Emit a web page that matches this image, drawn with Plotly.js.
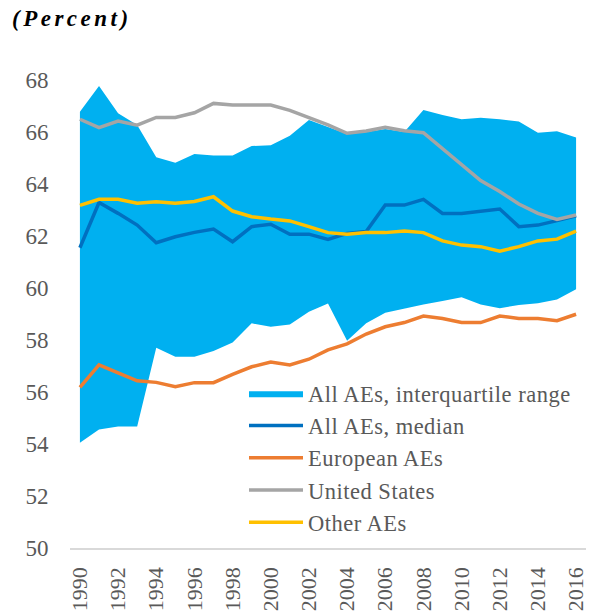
<!DOCTYPE html>
<html>
<head>
<meta charset="utf-8">
<script src="https://cdn.plot.ly/plotly-3.0.1.min.js"></script>
<style>html,body{margin:0;padding:0;background:#fff;}#chart{width:597px;height:612px;} .gtitle{letter-spacing:3.5px;} .legendtext{letter-spacing:0.5px;}</style>
</head>
<body>
<div id="chart"></div>
<script>
const years = [1990,1991,1992,1993,1994,1995,1996,1997,1998,1999,2000,2001,2002,2003,2004,2005,2006,2007,2008,2009,2010,2011,2012,2013,2014,2015,2016];
const iqrLow  = [54.05,54.56,54.67,54.67,57.70,57.36,57.36,57.58,57.90,58.64,58.51,58.60,59.09,59.40,57.97,58.64,59.05,59.22,59.37,59.50,59.64,59.37,59.22,59.35,59.41,59.56,59.95];
const iqrHigh = [66.78,67.77,66.72,66.27,65.03,64.82,65.15,65.10,65.10,65.46,65.49,65.86,66.46,66.20,65.92,66.00,66.12,66.00,66.85,66.65,66.49,66.55,66.49,66.40,65.97,66.03,65.79];
const median  = [61.55,63.29,62.87,62.42,61.74,61.97,62.14,62.27,61.78,62.36,62.45,62.07,62.07,61.87,62.10,62.17,63.19,63.19,63.41,62.87,62.87,62.96,63.04,62.36,62.42,62.59,62.78];
const european= [56.18,57.04,56.74,56.43,56.37,56.20,56.36,56.36,56.68,56.97,57.15,57.04,57.26,57.62,57.85,58.23,58.51,58.67,58.92,58.83,58.67,58.67,58.92,58.83,58.83,58.74,58.99];
const unitedStates = [66.49,66.17,66.42,66.26,66.56,66.56,66.74,67.10,67.04,67.04,67.04,66.83,66.56,66.27,65.95,66.04,66.18,66.05,65.97,65.35,64.73,64.13,63.71,63.23,62.87,62.64,62.81];
const otherAEs = [63.18,63.41,63.41,63.26,63.32,63.26,63.33,63.51,62.96,62.74,62.65,62.58,62.36,62.13,62.07,62.13,62.13,62.19,62.13,61.81,61.65,61.59,61.42,61.59,61.81,61.88,62.19];
const xTicks = [1990,1992,1994,1996,1998,2000,2002,2004,2006,2008,2010,2012,2014,2016];
const yTicks = [50,52,54,56,58,60,62,64,66,68];

const serif = 'Liberation Serif, Times New Roman, serif';
const LW = 3.5;
const traces = [
  {x: years, y: iqrLow, type:'scatter', mode:'lines', line:{width:0, color:'#00B0F0'}, showlegend:false, hoverinfo:'skip'},
  {x: years, y: iqrHigh, type:'scatter', mode:'lines', fill:'tonexty', fillcolor:'#00B0F0', line:{width:0, color:'#00B0F0'}, name:'All AEs, interquartile range'},
  {x: years, y: median, type:'scatter', mode:'lines', line:{width:LW, color:'#0070C0'}, name:'All AEs, median'},
  {x: years, y: european, type:'scatter', mode:'lines', line:{width:LW, color:'#ED7D31'}, name:'European AEs'},
  {x: years, y: unitedStates, type:'scatter', mode:'lines', line:{width:LW, color:'#A5A5A5'}, name:'United States'},
  {x: years, y: otherAEs, type:'scatter', mode:'lines', line:{width:LW, color:'#FFC000'}, name:'Other AEs'}
];

const layout = {
  width: 597, height: 612,
  margin: {l:70, r:11, t:80, b:64, pad:0},
  paper_bgcolor:'#fff', plot_bgcolor:'#fff',
  font: {family: serif, color:'#595959', size:22},
  title: {text:'<b><i>(Percent)</i></b>', font:{family:serif, size:23, color:'#000'}, x:12/597, xanchor:'left', y:1-18/612, yanchor:'middle', xref:'container', yref:'container'},
  xaxis: {
    range:[1989.48, 2016.52], tickmode:'array', tickvals:xTicks, ticktext:xTicks.map(String),
    tickangle:-90, showgrid:false, zeroline:false, showline:true, linecolor:'#D9D9D9', linewidth:1.5,
    ticks:'outside', ticklen:9, tickcolor:'rgba(0,0,0,0)', tickfont:{family:serif, size:22, color:'#595959'}
  },
  yaxis: {
    range:[50,68], tickmode:'array', tickvals:yTicks, ticktext:yTicks.map(String),
    showgrid:false, zeroline:false, showline:false,
    ticks:'outside', ticklen:16, tickcolor:'rgba(0,0,0,0)', tickfont:{family:serif, size:23, color:'#595959'}
  },
  legend: {x:(244-70)/516, xanchor:'left', y:(548-372)/468, yanchor:'top', bgcolor:'rgba(0,0,0,0)',
    font:{family:serif, size:22.5, color:'#595959'}, traceorder:'normal', itemwidth:54},
  showlegend:true
};

Plotly.newPlot('chart', traces, layout, {displayModeBar:false, staticPlot:true});
</script>
</body>
</html>
